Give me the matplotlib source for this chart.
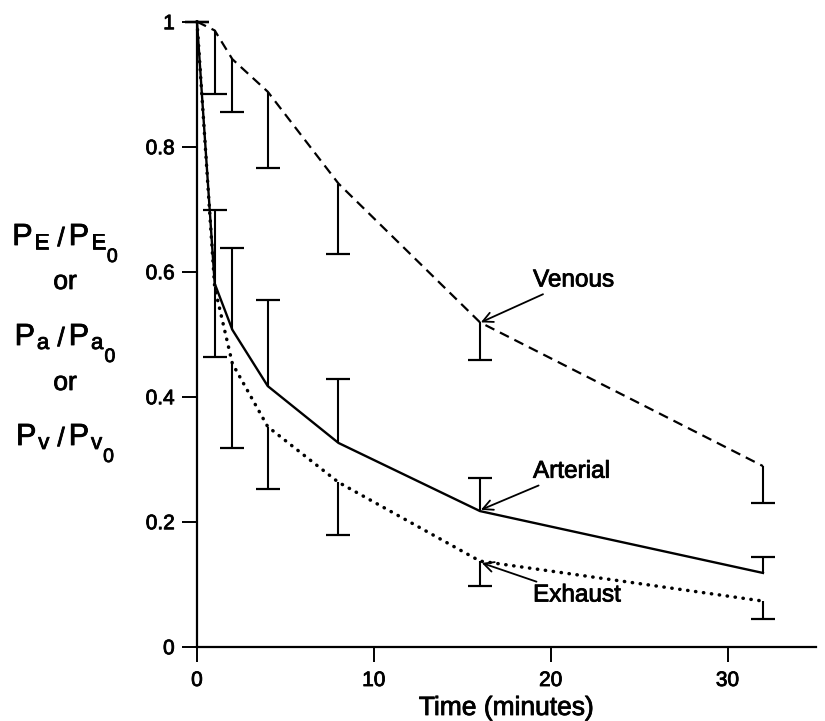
import matplotlib
matplotlib.use("Agg")
import matplotlib.pyplot as plt
import matplotlib.patheffects as pe
from matplotlib import font_manager

# pick a condensed sans if available
names = {f.name for f in font_manager.fontManager.ttflist}
font = "Liberation Sans Narrow" if "Liberation Sans Narrow" in names else "Liberation Sans"
plt.rcParams["font.family"] = [font, "DejaVu Sans"]
# slight stroke to mimic the heavy print of the scan
bold = [pe.withStroke(linewidth=0.6, foreground="black")]

# Data
times = [0, 1, 2, 4, 8, 16, 32]
venous = [1.0, 0.986, 0.940, 0.888, 0.741, 0.519, 0.289]
venous_low = [1.0, 0.885, 0.856, 0.766, 0.628, 0.459, 0.230]
arterial = [1.0, 0.581, 0.507, 0.417, 0.326, 0.217, 0.118]
arterial_high = [1.0, 0.698, 0.638, 0.555, 0.429, 0.270, 0.144]
exhaust = [1.0, 0.575, 0.453, 0.352, 0.263, 0.137, 0.073]
exhaust_low = [1.0, 0.463, 0.318, 0.253, 0.179, 0.097, 0.044]

W, H = 825, 721
fig = plt.figure(figsize=(W / 100, H / 100), dpi=100)
ax = fig.add_axes([197 / W, 1 - 646.7 / H, 619 / W, 625 / H])

ax.plot(times, venous, color="black", lw=1.6, linestyle=(0, (4.5, 2.8)), clip_on=False)
ax.plot(times, arterial, color="black", lw=1.7, clip_on=False)
ax.plot(times, exhaust, color="black", lw=2.5, linestyle=(0, (0.1, 2.2)),
        dash_capstyle="round", clip_on=False)

# one-sided error bars with a cap at the far end only
for mean, end in [(venous, venous_low), (arterial, arterial_high), (exhaust, exhaust_low)]:
    ax.vlines(times, mean, end, color="black", lw=1.5, clip_on=False)
    ax.plot(times, end, linestyle="none", marker="_", ms=17, mew=1.6,
            color="black", clip_on=False)

arrow = dict(arrowstyle="->", lw=1.3, color="black", shrinkA=0, shrinkB=0,
             mutation_scale=18)
for label, xy, xytext in [("Venous", (16.05, 0.519), (19.0, 0.586)),
                          ("Arterial", (16.05, 0.219), (19.0, 0.280)),
                          ("Exhaust", (16.1, 0.134), (19.0, 0.082))]:
    t = ax.annotate(label, xy=xy, xytext=xytext, fontsize=17.5, ha="left",
                    va="center", arrowprops=arrow)
    t.set_path_effects(bold)

ax.set_xlim(0, 35)
ax.set_ylim(0, 1)
ax.set_xticks([0, 10, 20, 30])
ax.set_yticks([0, 0.2, 0.4, 0.6, 0.8, 1])
ax.set_yticklabels(["0", "0.2", "0.4", "0.6", "0.8", "1"])
ax.tick_params(axis="y", direction="out", length=11, width=1.4, labelsize=15, pad=5)
ax.tick_params(axis="x", direction="out", length=10.5, width=1.4, labelsize=15, pad=7)
for lab in ax.get_xticklabels() + ax.get_yticklabels():
    lab.set_path_effects(bold)
for s in ["top", "right"]:
    ax.spines[s].set_visible(False)
for s in ["left", "bottom"]:
    ax.spines[s].set_linewidth(1.6)

xl = ax.set_xlabel("Time (minutes)", fontsize=19, va="baseline")
xl.set_path_effects(bold)
ax.xaxis.set_label_coords(0.5, -(715 - 646.7) / 625)

# stacked y-axis label, built piece by piece (text, size, baseline drop px, gap px)
renderer = fig.canvas.get_renderer()


def stacked(pieces, cx, base):
    arts = []
    x = 0.0
    for txt, size, drop, gap in pieces:
        x += gap
        t = fig.text(x / W, 1 - (base + drop) / H, txt, fontsize=size,
                     ha="left", va="baseline", path_effects=bold)
        x += t.get_window_extent(renderer).width
        arts.append(t)
    shift = cx - x / 2
    for t in arts:
        px, py = t.get_position()
        t.set_position((px + shift / W, py))


def ratio(p):
    return [("P", 22, 0, 0), (p, 16, 4, 2), ("/", 19, 1, 8), ("P", 22, 0, 4),
            (p, 16, 4, 2), ("0", 14, 17, 1)]


stacked(ratio("E"), 65, 245)
stacked([("or", 19, 0, 0)], 65, 289)
stacked(ratio("a"), 65, 345)
stacked([("or", 19, 0, 0)], 65, 390)
stacked(ratio("v"), 65, 445)

fig.savefig("out.png", dpi=100)
